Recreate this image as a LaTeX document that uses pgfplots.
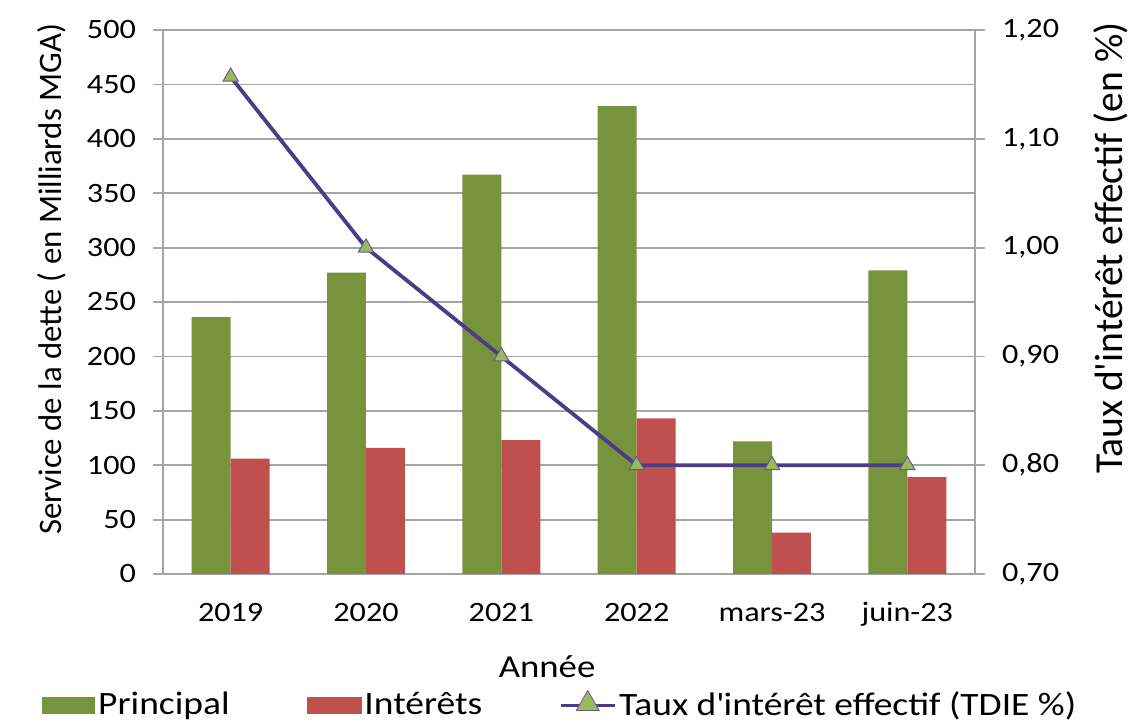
\documentclass[border=0pt]{standalone}
\usepackage{pgfplots}
\pgfplotsset{compat=1.18}
\usetikzlibrary{shapes.geometric}
\usepackage{fontspec}
\setmainfont[FakeStretch=1.15]{Carlito}
\newfontfamily\plainf{Carlito}
\definecolor{princ}{RGB}{119,147,60}
\definecolor{inter}{RGB}{192,80,77}
\definecolor{tdie}{RGB}{76,60,136}
\definecolor{markf}{RGB}{155,187,89}
\definecolor{gridc}{RGB}{165,165,165}

\pgfplotsset{
  common/.style={
    scale only axis, width=406pt, height=272pt,
    xmin=-0.5, xmax=5.5,
    /pgf/number format/assume math mode=true,
    tick label style={font=\fontsize{14}{16}\selectfont},
    tick align=outside, major tick length=5pt,
    tick style={gridc, line width=0.9pt},
    axis line style={gridc, line width=0.9pt},
  }
}

\begin{document}
\begin{tikzpicture}
\begin{axis}[
  common,
  ymin=0, ymax=500, ytick distance=50,
  xtick={0,...,5}, xticklabels={2019,2020,2021,2022,mars-23,juin-23},
  xtick style={draw=none},
  xticklabel style={anchor=base, yshift=-18.5pt},
  yticklabel style={xshift=-5pt},
  axis y line*=left, axis x line*=bottom,
  ymajorgrids, grid style={gridc, line width=0.9pt},
  ybar=0pt, bar width=0.288,
  xlabel={Année},
  xlabel style={at={(axis description cs:0.473,0)}, anchor=base, yshift=-52pt,
    font=\fontsize{16}{18}\selectfont},
  ylabel={Service de la dette ( en Milliards MGA)},
  ylabel style={at={(axis description cs:-0.137,0.542)}, anchor=center, rotate=0,
    font=\plainf\fontsize{16.4}{18}\selectfont},
]
\addplot[fill=princ, draw=none] coordinates {(0,236) (1,277) (2,367) (3,430) (4,122) (5,279)};
\addplot[fill=inter, draw=none] coordinates {(0,106) (1,116) (2,123) (3,143) (4,38) (5,89)};
\end{axis}
\begin{axis}[
  common,
  ymin=0.7, ymax=1.2, ytick distance=0.1,
  axis y line*=right, axis x line=none,
  yticklabel style={xshift=5pt, /pgf/number format/.cd, fixed, fixed zerofill, precision=2, use comma},
  ylabel={Taux d\textquotesingle intérêt effectif (en \%)},
  ylabel style={at={(axis description cs:1.1675,0.599)}, anchor=center, rotate=0,
    font=\plainf\fontsize{19.8}{22}\selectfont},
  legend style={at={(axis description cs:-0.149,-0.241)}, anchor=west, legend columns=3,
    draw=none, inner sep=0pt,
    font=\fontsize{16.3}{18}\selectfont,
    nodes={inner sep=1.5pt},
    /tikz/every even column/.append style={column sep=37pt}},
]
\addlegendimage{legend image code/.code={\fill[princ] (0pt,-4pt) rectangle (26pt,4pt);}}
\addlegendimage{legend image code/.code={\fill[inter] (0pt,-4pt) rectangle (27pt,4pt);}}
\addplot[color=tdie, line width=1.9pt, mark=triangle*, mark size=4.4pt,
  mark options={fill=markf, draw=tdie!85, line width=0.5pt},
  legend image code/.code={\draw[tdie, line width=1.4pt] (0pt,0pt) -- (27pt,0pt);
    \node[draw=tdie!85, fill=markf, regular polygon, regular polygon sides=3, inner sep=1.6pt, line width=0.4pt] at (13.5pt,0.6pt) {};}]
  coordinates {(0,1.157) (1,1.00) (2,0.90) (3,0.80) (4,0.80) (5,0.80)};
\legend{Principal, Intérêts, Taux d\textquotesingle intérêt effectif (TDIE \%)}
\end{axis}
\pgfresetboundingbox
\useasboundingbox (-81.5pt,-74.5pt) rectangle (484.5pt,287pt);
\end{tikzpicture}
\end{document}
